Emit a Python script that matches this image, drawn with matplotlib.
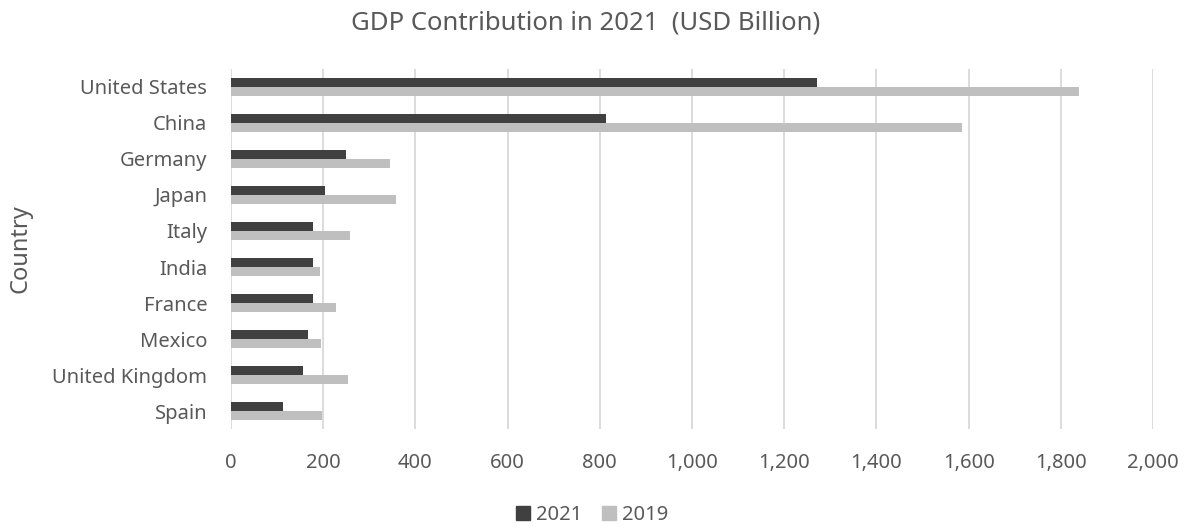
import matplotlib
matplotlib.use("Agg")
import matplotlib.pyplot as plt
from matplotlib.ticker import FuncFormatter
from matplotlib.patches import Patch
import numpy as np

countries = ["United States", "China", "Germany", "Japan", "Italy",
             "India", "France", "Mexico", "United Kingdom", "Spain"]
gdp_2021 = [1271, 813, 250, 205, 179, 177, 177, 168, 156, 112]
gdp_2019 = [1839, 1585, 346, 358, 259, 193, 228, 195, 253, 198]

DARK = "#404040"
LIGHT = "#bfbfbf"
TEXT = "#595959"
GRID = "#d9d9d9"

plt.rcParams["font.family"] = ["Noto Sans", "DejaVu Sans"]

fig = plt.figure(figsize=(11.85, 5.29), dpi=100)
ax = fig.add_axes([0.1949, 0.189, 0.7781, 0.6806])

y = np.arange(len(countries))
h = 0.25
ax.barh(y - h / 2, gdp_2021, height=h, color=DARK, label="2021")
ax.barh(y + h / 2, gdp_2019, height=h, color=LIGHT, label="2019")

ax.set_ylim(len(countries) - 0.5, -0.5)
ax.set_xlim(0, 2000)
ax.set_xticks(range(0, 2001, 200))
ax.xaxis.set_major_formatter(FuncFormatter(lambda v, p: f"{int(v):,}"))
ax.set_yticks(y)
ax.set_yticklabels(countries)

ax.grid(axis="x", color=GRID, linewidth=1.3)
ax.set_axisbelow(True)
for s in ax.spines.values():
    s.set_visible(False)
ax.tick_params(axis="both", length=0, labelsize=14.5, colors=TEXT)
ax.tick_params(axis="x", pad=17)
ax.tick_params(axis="y", pad=17)

ax.set_ylabel("Country", fontsize=17, color=TEXT)
ax.yaxis.set_label_coords(-0.2147, 0.5)
fig.text(0.4945, 0.957, "GDP Contribution in 2021  (USD Billion)",
         ha="center", va="center", fontsize=18.5, color=TEXT)

handles = [Patch(color=DARK, label="2021"), Patch(color=LIGHT, label="2019")]
fig.legend(handles=handles, loc="center", bbox_to_anchor=(0.4996, 0.0265),
           ncol=2, frameon=False, fontsize=14.5, labelcolor=TEXT,
           handlelength=0.7, handleheight=0.7, handletextpad=0.3,
           columnspacing=0.95, borderaxespad=0, borderpad=0)

fig.savefig("out.png", dpi=100)
